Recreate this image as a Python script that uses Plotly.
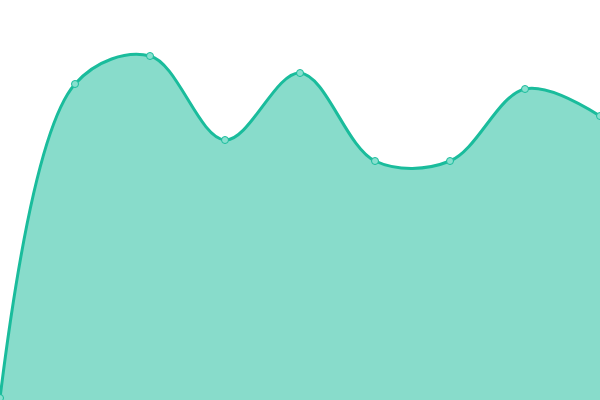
import plotly.graph_objects as go

# point positions along the x axis and the values
x_values = [0, 1, 2, 3, 4, 5, 6, 7, 8]
y_values = [2, 316, 344, 260, 327, 239, 239, 311, 284]

LINE_COLOR = "#1abc9c"
FILL_COLOR = "rgba(26, 188, 156, 0.52)"

fig = go.Figure(
    go.Scatter(
        x=x_values,
        y=y_values,
        mode="lines+markers",
        fill="tozeroy",
        fillcolor=FILL_COLOR,
        line={"color": LINE_COLOR, "width": 3, "shape": "spline", "smoothing": 1.0},
        marker={
            "size": 7,
            "color": "#88e0cf",
            "line": {"color": LINE_COLOR, "width": 1},
        },
        cliponaxis=False,
        hoverinfo="skip",
    )
)

fig.update_layout(
    width=600,
    height=400,
    margin={"l": 0, "r": 0, "t": 0, "b": 0},
    paper_bgcolor="white",
    plot_bgcolor="white",
    showlegend=False,
    xaxis={"visible": False, "range": [0, 8], "fixedrange": True},
    yaxis={"visible": False, "range": [0, 400], "fixedrange": True},
)

# drop the page's default body margin so the chart sits flush in the window
fig.write_html(
    "out.html",
    config={"displayModeBar": False},
    post_script="document.body.style.margin = '0';",
)
